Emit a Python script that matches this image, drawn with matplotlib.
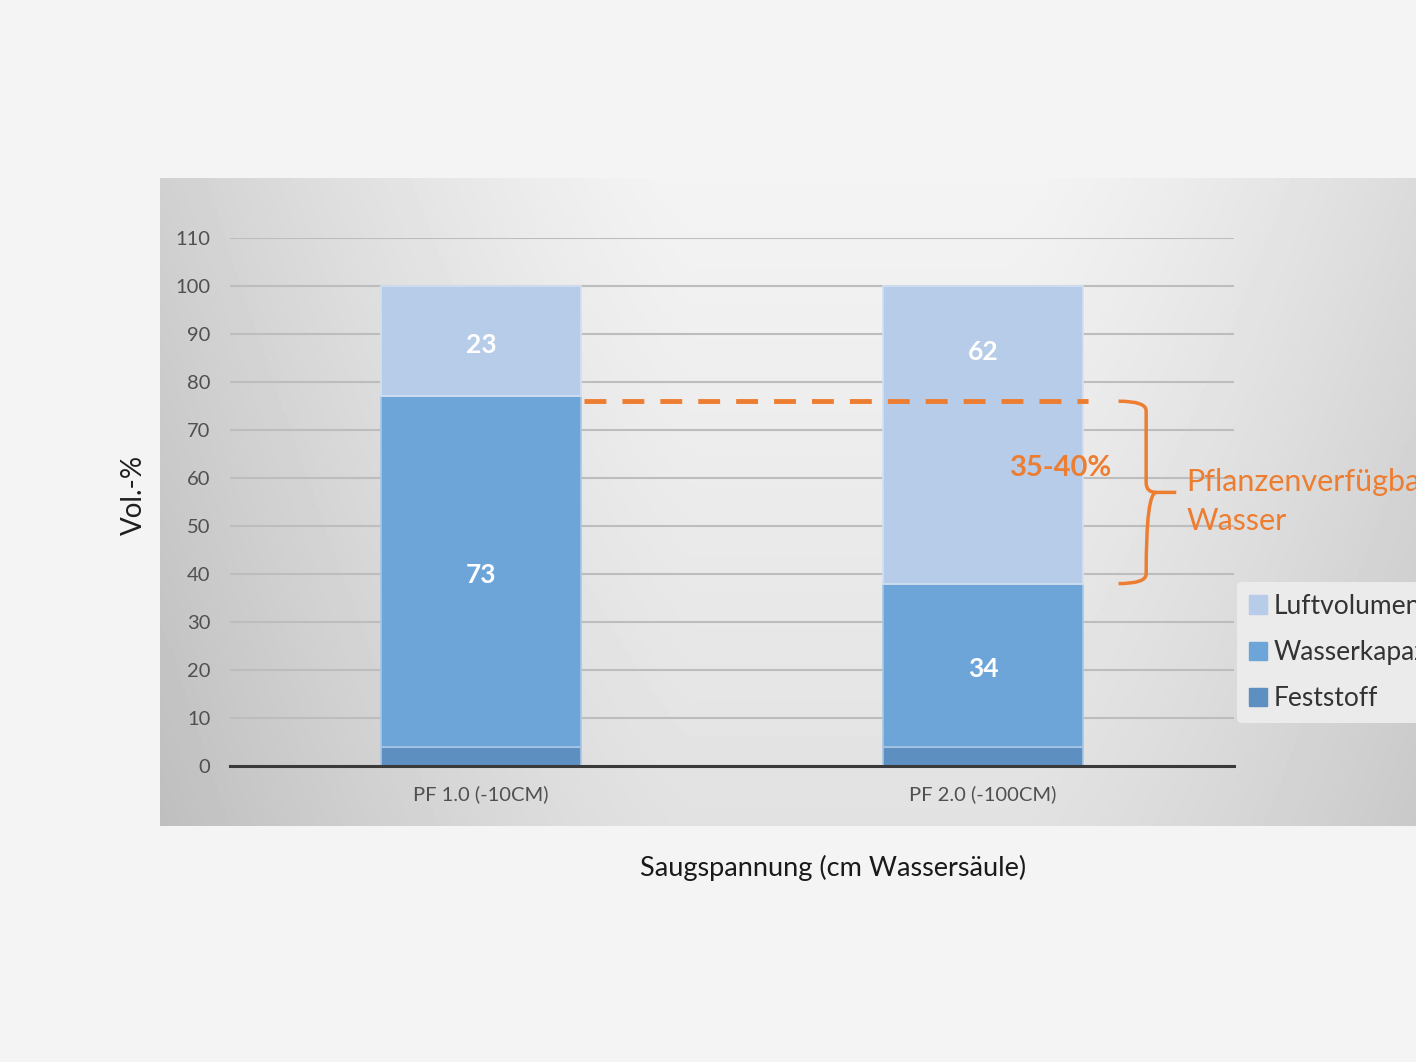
import numpy as np
import matplotlib.pyplot as plt
from matplotlib.path import Path
from matplotlib.patches import PathPatch, Patch

plt.rcParams['font.family'] = ['Lato', 'DejaVu Sans']

# data
categories = ['PF 1.0 (-10CM)', 'PF 2.0 (-100CM)']
feststoff = [4, 4]
wasser = [73, 34]
luft = [23, 62]
label_luft_y = [87.8, 86.3]  # label heights as placed in the original
series_names = ['Luftvolumen', 'Wasserkapazität', 'Feststoff']

c_luft = '#b6cce8'
c_wasser = '#6da5d9'
c_fest = '#5d8fc0'
orange = '#ed7d31'

W, H = 1416, 1062
fig = plt.figure(figsize=(W / 100, H / 100), dpi=100)
fig.patch.set_facecolor('#f4f4f4')

# gradient panel behind the chart
bg = fig.add_axes([160 / W, 1 - 826 / H, (W - 160) / W, (826 - 178) / H])
xx, yy = np.meshgrid(np.linspace(-1, 1, 400), np.linspace(0, 1, 200))
u = xx - 0.1
shade = 0.955 - 0.17 * np.clip(np.abs(u) - 0.25, 0, None) ** 1.3 - 0.07 * yy
bg.imshow(shade, cmap='gray', vmin=0, vmax=1, aspect='auto', origin='upper',
          extent=[0, 1, 0, 1])
bg.axis('off')

ax = fig.add_axes([230 / W, 1 - 766 / H, (1234 - 230) / W, (766 - 238) / H])
ax.set_facecolor('none')
x = np.arange(len(categories))
bw = 0.4
bottom2 = np.array(feststoff) + np.array(wasser)
ax.bar(x, feststoff, bw, color=c_fest, edgecolor='#a9c6e6', linewidth=1.2, zorder=3)
ax.bar(x, wasser, bw, bottom=feststoff, color=c_wasser, edgecolor='#a9c6e6', linewidth=1.2, zorder=3)
ax.bar(x, luft, bw, bottom=bottom2, color=c_luft, edgecolor='#d2e0f0', linewidth=1.2, zorder=3)

# value labels
for i in range(len(x)):
    ax.text(x[i], label_luft_y[i], str(luft[i]), ha='center', va='center',
            color='white', fontsize=19, fontweight='bold', zorder=5)
    ax.text(x[i], feststoff[i] + wasser[i] / 2 - 0.7, str(wasser[i]), ha='center', va='center',
            color='white', fontsize=19, fontweight='bold', zorder=5)

ax.set_xlim(-0.5, 1.5)
ax.set_ylim(0, 110)
ax.set_yticks(range(0, 111, 10))
ax.set_xticks(x)
ax.set_xticklabels(categories)
ax.tick_params(axis='both', length=0, labelsize=14.5, labelcolor='#505050')
ax.tick_params(axis='y', pad=14)
ax.tick_params(axis='x', pad=14)
ax.yaxis.grid(True, color='#bdbdbd', linewidth=1.5, zorder=0)
for s in ['top', 'right', 'left']:
    ax.spines[s].set_visible(False)
ax.spines['bottom'].set_color('#3a3a3a')
ax.spines['bottom'].set_linewidth(2.2)
ax.spines['bottom'].set_zorder(4)

ax.set_ylabel('Vol.-%', fontsize=20, color='#1e1e1e')
ax.yaxis.set_label_coords(-(230 - 147) / (1234 - 230), (766 - 495) / (766 - 238))
ax.set_xlabel('Saugspannung (cm Wassersäule)', fontsize=19.5, color='#1a1a1a')
ax.xaxis.set_label_coords((833 - 230) / (1234 - 230), -(855 - 766) / (766 - 238))

# dashed line at field capacity of first bar
ax.plot([x[0] + bw / 2 + 0.005, 1.21], [76, 76], color=orange, linewidth=3.5,
        dashes=(4.5, 3.3), zorder=6, solid_capstyle='butt')

# curly brace between 76 and 38
y_top, y_bot = 76, bottom2[1]
y_mid = 57
x0, x1, xt = 1.27, 1.325, 1.385
codes = [Path.MOVETO, Path.CURVE3, Path.CURVE3, Path.LINETO,
         Path.CURVE3, Path.CURVE3, Path.LINETO,
         Path.MOVETO, Path.CURVE3, Path.LINETO, Path.CURVE3, Path.CURVE3]
verts = [(x0, y_top), (x1, y_top), (x1, y_top - 2), (x1, y_mid + 2),
         (x1, y_mid), (x1 + 0.02, y_mid), (xt, y_mid),
         (x1 + 0.02, y_mid), (x1, y_mid), (x1, y_bot + 2), (x1, y_bot), (x0, y_bot)]
brace = PathPatch(Path(verts, codes), fill=False, edgecolor=orange, linewidth=2.5,
                  zorder=6, clip_on=False)
ax.add_patch(brace)

ax.text(1.155, 62.0, '35-40%', color=orange, fontsize=21, fontweight='bold',
        ha='center', va='center', zorder=6)
ax.text(1.405, 59.2, 'Pflanzenverfügbares', color=orange, fontsize=22,
        ha='left', va='center', clip_on=False)
ax.text(1.405, 51.0, 'Wasser', color=orange, fontsize=22,
        ha='left', va='center', clip_on=False)

handles = [Patch(color=c_luft), Patch(color=c_wasser), Patch(color=c_fest)]
leg = fig.legend(handles, series_names, loc='upper left',
                 bbox_to_anchor=(1237 / W, 1 - 582 / H), frameon=True,
                 fontsize=19, labelcolor='#333333', handlelength=0.7,
                 handleheight=0.7, handletextpad=0.25, labelspacing=0.8,
                 borderpad=0.45, borderaxespad=0)
leg.get_frame().set_facecolor('#ebebeb')
leg.get_frame().set_edgecolor('none')
leg.get_frame().set_alpha(1)

fig.savefig('out.png', dpi=100, facecolor=fig.get_facecolor())
